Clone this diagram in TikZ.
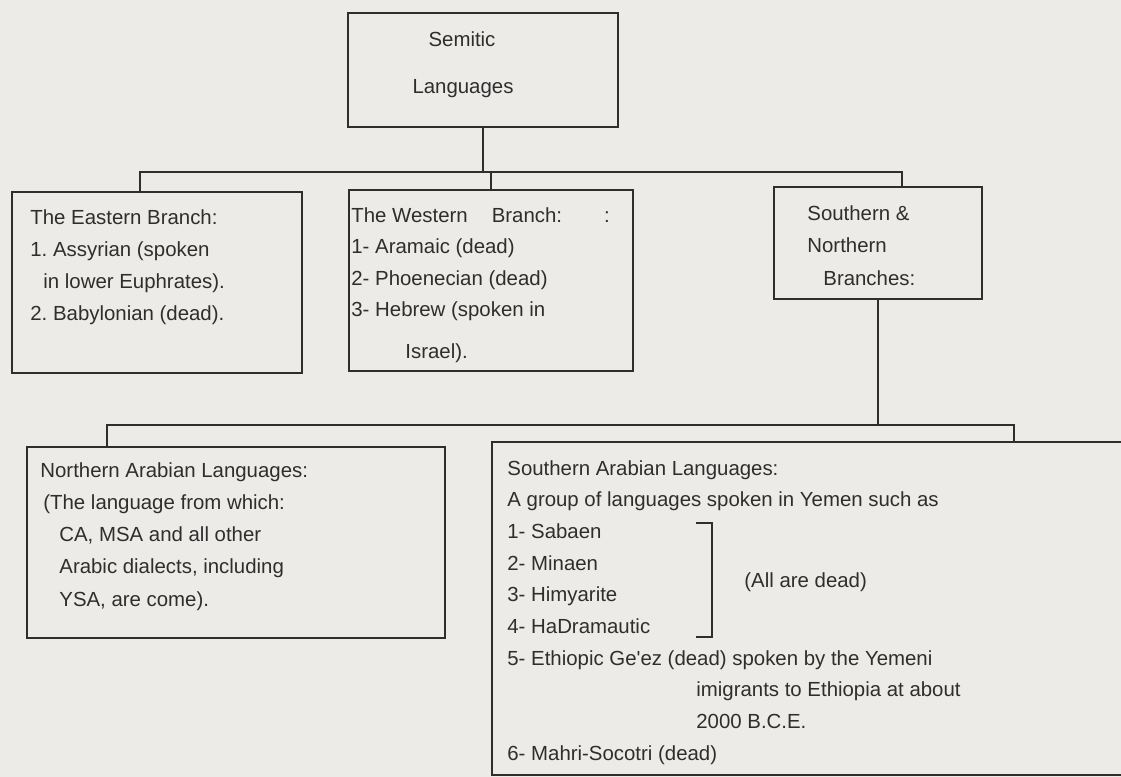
\documentclass[tikz,border=0pt]{standalone}
\usepackage{fontspec}
\setmainfont{Liberation Sans}
\usepackage{tikz}
\usetikzlibrary{fit}
\definecolor{paper}{HTML}{EDEBE8}
\definecolor{ink}{HTML}{2E2E2E}
\frenchspacing

\begin{document}
\begin{tikzpicture}[
x=0.5pt, y=-0.5pt,
font=\fontsize{10.2pt}{16pt}\selectfont,
  box/.style = {rectangle, draw=ink, line width=1pt,% frames of the tree
                inner sep=0pt, outer sep=0pt},
  txt/.style = {anchor=base west, inner sep=0pt, text=ink},% one line of text
 link/.style = {draw=ink, line width=1pt},
                        ]
\clip (0,0) rectangle (1121,777);
\fill[paper] (0,0) rectangle (1121,777);
% frames
\node[box, fit={(348,13) (618,127)}]  (sem)   {};
\node[box, fit={(12,192) (302,373)}]  (east)  {};
\node[box, fit={(349,190) (633,371)}] (west)  {};
\node[box, fit={(774,187) (982,299)}] (sn)    {};
\node[box, fit={(27,447) (445,638)}]  (narab) {};
\node[box, fit={(492,442) (1140,775)}] (sarab) {};
% first level
\coordinate (busA) at (140,172);
\coordinate (busB) at (902,172);
\draw[link] (sem.south) -- (sem.south |- busA);
\draw[link] (east.north -| busA) |- (busB) -- (busB |- sn.north);
\draw[link] (west.north) -- (west.north |- busA);
% second level
\coordinate (busC) at (107,425);
\coordinate (busD) at (1014,425);
\draw[link] (sn.south) -- (sn.south |- busC);
\draw[link] (narab.north -| busC) |- (busD) -- (busD |- sarab.north);
% texts
\node[txt, anchor=base] (sem-1) at (462,46) {Semitic};
\node[txt, anchor=base] (sem-2) at (463,93) {Languages};
\foreach \t [count=\i] in {The Eastern Branch:, 1. Assyrian (spoken,
    \hspace*{6.5pt}in lower Euphrates)., 2. Babylonian (dead).}% <-- lines of the frame
    \node[txt] (east-\i) at (30,{224+32*(\i-1)}) {\t};
\foreach \t [count=\i] in {The Western\hspace{12pt}Branch:\hspace{21pt}:,
    1- Aramaic (dead), 2- Phoenecian (dead), 3- Hebrew (spoken in}
    \node[txt] (west-\i) at (351,{222+31.5*(\i-1)}) {\t};
\node[txt] (west-5) at (405,358) {Israel).};
\foreach \t [count=\i] in {Southern \&, Northern, \hspace*{8pt}Branches:}
    \node[txt] (sn-\i) at (807,{220+32.5*(\i-1)}) {\t};
\foreach \t [count=\i] in {Northern Arabian Languages:,
    \hspace*{1.5pt}(The language from which:,
    {\hspace*{9.5pt}CA, MSA and all other},
    {\hspace*{9.5pt}Arabic dialects, including},
    {\hspace*{9.5pt}YSA, are come).}}
    \node[txt] (narab-\i) at (40,{477+32.3*(\i-1)}) {\t};
\foreach \t [count=\i] in {Southern Arabian Languages:,
    A group of languages spoken in Yemen such as,
    1- Sabaen, 2- Minaen, 3- Himyarite, 4- HaDramautic,
    5- Ethiopic Ge\textquotesingle ez (dead) spoken by the Yemeni,
    \hspace*{94.5pt}imigrants to Ethiopia at about,
    \hspace*{94.5pt}2000 B.C.E.,
    6- Mahri-Socotri (dead)}
    \node[txt] (sarab-\i) at (507,{475+31.7*(\i-1)}) {\t};
% bracket round items 1 to 4
\draw[link] (696,523) -| (712,637) -- (696,637);
\node[txt] (dead) at (744,587) {(All are dead)};
\end{tikzpicture}
\end{document}
